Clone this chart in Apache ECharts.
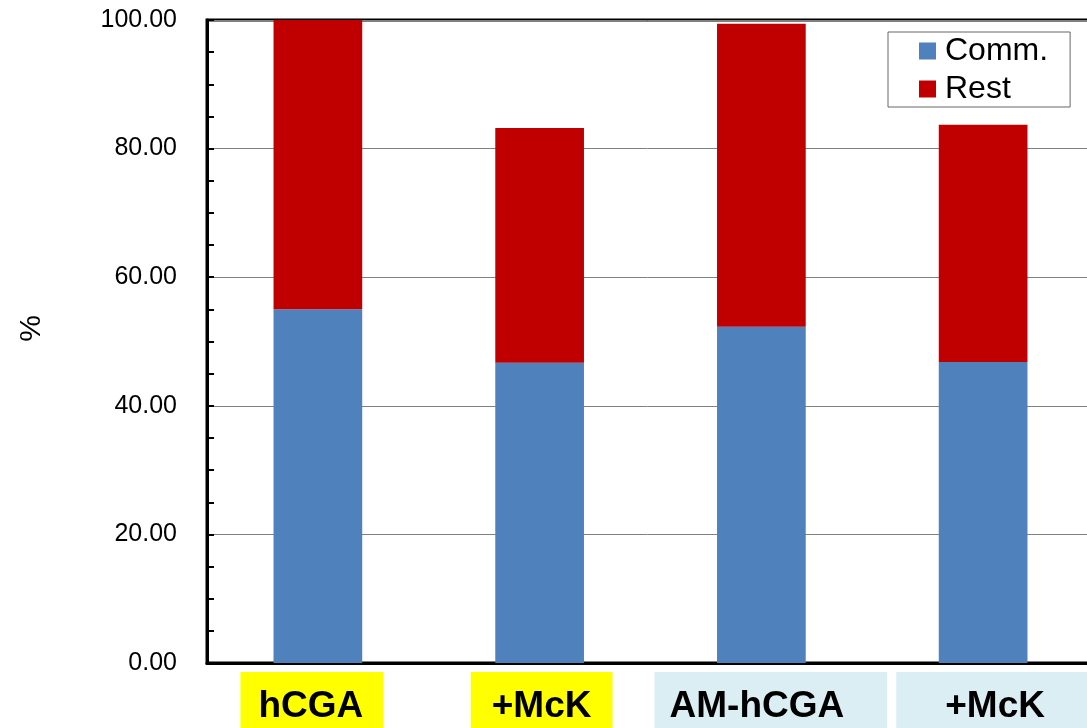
<!DOCTYPE html>
<html>
<head>
<meta charset="utf-8">
<script src="https://cdn.jsdelivr.net/npm/echarts@6/dist/echarts.min.js"></script>
<style>
html,body{margin:0;padding:0;background:#fff;}
#chart{width:1087px;height:728px;}
</style>
</head>
<body>
<div id="chart"></div>
<script>
// ---- data ----
var categories = ['hCGA', '+McK', 'AM-hCGA', '+McK'];
var commValues = [55.0, 46.7, 52.3, 46.8];
var restValues = [45.0, 36.5, 47.1, 36.9];
var seriesNames = ['Comm.', 'Rest'];
var yTicks = [0, 20, 40, 60, 80, 100];

// ---- label styling (per category box) ----
var labelBoxStyle = ['y1', 'y2', 'b1', 'b2'];
var labelShift = [{after: 12}, {before: 4}, {before: 19}, {before: 25}];

var base = {fontSize: 37, fontWeight: 'bold', fontFamily: 'Liberation Sans, Arial, sans-serif',
            color: '#000', lineHeight: 37};
function box(bg, pad) { return Object.assign({backgroundColor: bg, padding: pad}, base); }
var rich = {
  y1: box('#FFFF00', [16, 20, 20, 18]),
  y2: box('#FFFF00', [16, 21, 20, 21]),
  b1: box('#DAEEF3', [16, 43, 20, 15]),
  b2: box('#DAEEF3', [16, 50, 20, 49])
};
[4, 12, 19, 25].forEach(function (w) {
  rich['s' + w] = {width: w, fontSize: 10, lineHeight: 10};
});

var chart = echarts.init(document.getElementById('chart'), null, {renderer: 'canvas'});
chart.setOption({
  animation: false,
  backgroundColor: '#fff',
  textStyle: {fontFamily: 'Liberation Sans, Arial, sans-serif'},
  grid: {left: 207, top: 20, bottom: 65, width: 887, show: true,
         containLabel: false, outerBoundsMode: 'none',
         borderColor: '#000', borderWidth: 3, backgroundColor: 'transparent'},
  legend: {
    orient: 'vertical', left: 888, top: 32,
    data: seriesNames,
    icon: 'rect', itemWidth: 17, itemHeight: 17, itemGap: 6,
    borderColor: '#666', borderWidth: 1,
    padding: [3, 22, 2, 31],
    textStyle: {fontSize: 32, color: '#000', padding: [0, 0, 0, 4]}
  },
  xAxis: {
    type: 'category', data: categories,
    axisLine: {lineStyle: {color: '#000', width: 3}},
    axisTick: {show: false},
    axisLabel: {
      interval: 0, margin: 27, hideOverlap: false,
      formatter: function (v, i) {
        var s = labelShift[i], out = '';
        if (s.before) out += '{s' + s.before + '| }';
        out += '{' + labelBoxStyle[i] + '|' + v + '}';
        if (s.after) out += '{s' + s.after + '| }';
        return out;
      },
      rich: rich
    }
  },
  yAxis: {
    type: 'value', min: yTicks[0], max: yTicks[yTicks.length - 1],
    interval: yTicks[1] - yTicks[0],
    name: '%', nameLocation: 'middle', nameGap: 160, nameRotate: 90,
    nameTextStyle: {fontSize: 30, color: '#000', padding: [0, 0, 0, 26]},
    axisLine: {show: true, lineStyle: {color: '#000', width: 3}},
    axisTick: {show: true, inside: true, length: 7, lineStyle: {color: '#000', width: 2}},
    minorTick: {show: true, splitNumber: 4, length: 7, lineStyle: {color: '#000', width: 2}},
    axisLabel: {fontSize: 25, color: '#000', margin: 30,
      formatter: function (v) { return v.toFixed(2); }},
    splitLine: {show: true, lineStyle: {color: '#808080', width: 1}}
  },
  series: [
    {name: seriesNames[0], type: 'bar', stack: 'total', data: commValues,
     barWidth: '40%', itemStyle: {color: '#4F81BD'}},
    {name: seriesNames[1], type: 'bar', stack: 'total', data: restValues,
     barWidth: '40%', itemStyle: {color: '#C00000'}}
  ]
});
</script>
</body>
</html>
